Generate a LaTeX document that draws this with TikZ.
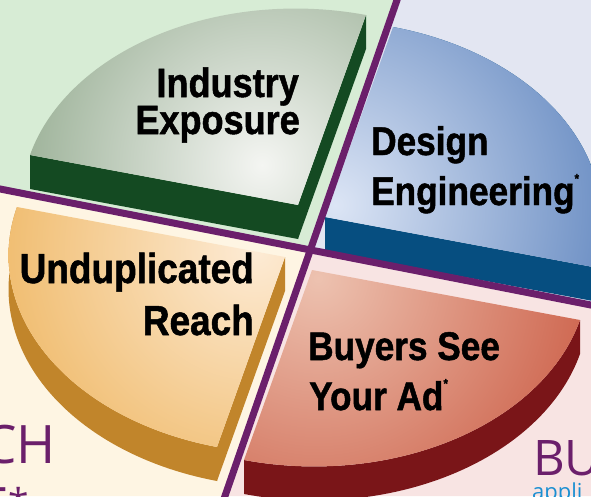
\documentclass[tikz,border=0pt]{standalone}
\usepackage{fontspec}
\setmainfont{Liberation Sans}
\newfontfamily\labelfont[FakeStretch=0.88, FakeBold=1.2]{Liberation Sans}
\newfontfamily\wordfont{Open Sans}
\usetikzlibrary{calc}

\definecolor{bgGreen}{HTML}{D7ECD5}
\definecolor{bgBlue}{HTML}{E3E6F2}
\definecolor{bgCream}{HTML}{FEF5E3}
\definecolor{bgPink}{HTML}{F8E4E3}
\definecolor{lineViolet}{HTML}{6B1F6B}
\definecolor{topGreen}{HTML}{9AB096}
\definecolor{topGreenHi}{HTML}{F4F5F2}
\definecolor{sideGreen}{HTML}{144A22}
\definecolor{topBlue}{HTML}{6388C0}
\definecolor{topBlueHi}{HTML}{DCE5F5}
\definecolor{sideBlue}{HTML}{064E80}
\definecolor{topOrange}{HTML}{F0BC6E}
\definecolor{topOrangeHi}{HTML}{FDEBD5}
\definecolor{sideOrange}{HTML}{C1852B}
\definecolor{topRed}{HTML}{CD624B}
\definecolor{topRedHi}{HTML}{EDC2B0}
\definecolor{sideRed}{HTML}{7A1518}
\definecolor{wordBlue}{HTML}{1B8FD2}

% top face of a slice: apex x, apex y, sign along U, sign along V
\newcommand{\sliceTop}[4]{(#1,#2) -- plot[domain=0:90,samples=60]
  ({#1+#3*cos(\x)*268+#4*sin(\x)*68},{#2+#3*cos(\x)*50-#4*sin(\x)*190}) -- cycle}
% curved rim below the arc
\newcommand{\sliceRim}[4]{plot[domain=0:90,samples=60]
  ({#1+#3*cos(\x)*268+#4*sin(\x)*68},{#2+#3*cos(\x)*50-#4*sin(\x)*190})
  -- plot[domain=90:0,samples=60]
  ({#1+#3*cos(\x)*268+#4*sin(\x)*68},{#2+34+#3*cos(\x)*50-#4*sin(\x)*190}) -- cycle}

\tikzset{divider/.style={draw=lineViolet, line width=7pt},
         labeltext/.style={font=\labelfont\bfseries\fontsize{40}{40}\selectfont, inner sep=0pt},
         bigword/.style={font=\wordfont\fontsize{53}{53}\selectfont, text=lineViolet, inner sep=0pt}
        }

\newcommand{\smallstar}{{\fontsize{13}{13}\selectfont\raisebox{22pt}{*}}}

\begin{document}
\begin{tikzpicture}[x=1pt, y=-1pt]
  \useasboundingbox (0,0) rectangle (591,496);
  \coordinate (cross) at (310.4,250);
  \coordinate (ltop) at (399.1,-6);
  \coordinate (lbot) at (222.9,502);
  \coordinate (lleft) at (-6,187.8);
  \coordinate (lright) at (597,306.2);

  % backgrounds
  \fill[bgGreen] (0,0) -- (397,0) -- (cross) -- (0,189) -- cycle;
  \fill[bgBlue] (397,0) -- (591,0) -- (591,305) -- (cross) -- cycle;
  \fill[bgCream] (0,189) -- (cross) -- (225,496) -- (0,496) -- cycle;
  \fill[bgPink] (cross) -- (591,305) -- (591,496) -- (225,496) -- cycle;

  % green slice
  \fill[sideGreen] (30,155) -- (298,205) -- (298,239) -- (30,189) -- cycle;
  \fill[sideGreen] (298,205) -- (366,15) -- (366,49) -- (298,239) -- cycle;
  \path[path picture={\shade[inner color=topGreenHi, outer color=topGreen] (262,165) circle[radius=250pt];}]
    \sliceTop{298}{205}{-1}{1};

  % blue slice
  \fill[sideBlue] \sliceRim{325}{217}{1}{1};
  \fill[sideBlue] (325,217) -- (593,267) -- (593,301) -- (325,251) -- cycle;
  \path[path picture={\shade[inner color=topBlueHi, outer color=topBlue] (335,205) circle[radius=300pt];}]
    \sliceTop{325}{217}{1}{1};

  % orange slice
  \fill[sideOrange] \sliceRim{285}{257}{-1}{-1};
  \fill[sideOrange] (285,257) -- (217,447) -- (217,481) -- (285,291) -- cycle;
  \path[path picture={\shade[inner color=topOrangeHi, outer color=topOrange] (255,250) circle[radius=260pt];}]
    \sliceTop{285}{257}{-1}{-1};

  % red slice
  \fill[sideRed] \sliceRim{312}{270}{1}{-1};
  \path[path picture={\shade[inner color=topRedHi, outer color=topRed] (318,278) circle[radius=290pt];}]
    \sliceTop{312}{270}{1}{-1};

  % dividers
  \draw[divider] (ltop) -- (lbot);
  \draw[divider] (lleft) -- (lright);

  % labels
  \node[labeltext, font=\labelfont\bfseries\fontsize{41}{41}\selectfont, anchor=base east] (industry) at (299,97) {Industry};
  \node[labeltext, font=\labelfont\bfseries\fontsize{41}{41}\selectfont, anchor=base east] (exposure) at (300,134) {Exposure};
  \node[labeltext, anchor=base west] (design) at (371,155) {Design};
  \node[labeltext, anchor=base west] (engineering) at (371,205) {Engineering\smallstar};
  \node[labeltext, font=\labelfont\bfseries\fontsize{42}{42}\selectfont, anchor=base east] (unduplicated) at (254,283) {Unduplicated};
  \node[labeltext, font=\labelfont\bfseries\fontsize{42}{42}\selectfont, anchor=base east] (reach) at (254,335) {Reach};
  \node[labeltext, anchor=base west] (buyers) at (308,360) {Buyers See};
  \node[labeltext, anchor=base west] (yourad) at (309,410) {Your Ad\smallstar};

  % cut-off words at the edges
  \node[bigword, anchor=base east] (reachword) at (56,463) {CH};
  \node[bigword, anchor=base east] (reachstar) at (30,525) {E\textsuperscript{*}};
  \node[bigword, font=\wordfont\fontsize{49}{49}\selectfont, anchor=base west] (buyword) at (533,475) {BU};
  \node[font=\wordfont\fontsize{22}{22}\selectfont, text=wordBlue, inner sep=0pt, anchor=base west] (appword) at (532,499) {appli};
\end{tikzpicture}
\end{document}
